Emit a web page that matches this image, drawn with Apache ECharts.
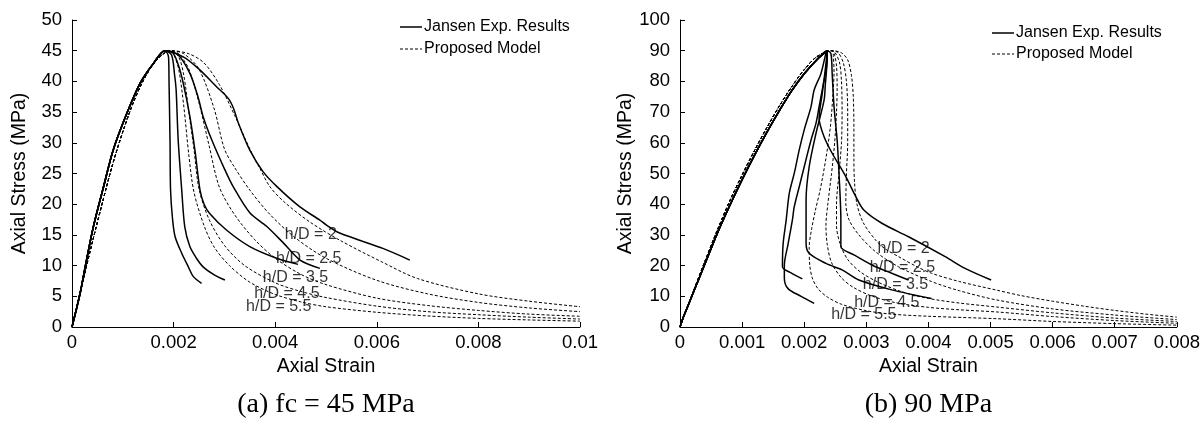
<!DOCTYPE html>
<html><head><meta charset="utf-8">
<script src="https://cdn.jsdelivr.net/npm/echarts@6/dist/echarts.min.js"></script>
<style>html,body{margin:0;padding:0;background:#fff}#c{width:1203px;height:427px}</style>
</head><body><div id="c"></div>
<script>
// ---------- tick / label text ----------
const hdLabels = ['h/D = 2', 'h/D = 2.5', 'h/D = 3.5', 'h/D = 4.5', 'h/D = 5.5'];
const captionA = '(a) fc = 45 MPa';
const captionB = '(b) 90 MPa';
const legendNames = ['Jansen Exp. Results', 'Proposed Model'];

// ---------- (a) fc = 45 MPa : [strain, stress] ----------
const a_expAsc = [[0,0],[0.00016,5.5],[0.00026,9.8],[0.00042,16.3],[0.00062,22.8],[0.00081,28.8],[0.00108,34.8],[0.00134,39.7],[0.0016,42.9],[0.00183,45]];
const a_exp2   = [[0.00219,44.0],[0.0025,42],[0.00285,39.1],[0.00308,37.2],[0.00318,35.6],[0.00328,33.1],[0.0035,28.8],[0.00376,25.3],[0.00403,22.9],[0.00448,19.6],[0.00488,17.4],[0.00501,16.6],[0.00527,15.3],[0.00612,12.8],[0.00665,10.9]];
const a_exp25  = [[0.00209,44.3],[0.00232,41.3],[0.00248,37.5],[0.00258,34.3],[0.00275,30.5],[0.00301,25.6],[0.00317,22.9],[0.0035,18.6],[0.00383,16.4],[0.00416,13.7],[0.00449,10.9],[0.00488,9.55]];
const a_exp35  = [[0.00199,44.6],[0.0021,42.5],[0.00219,39.7],[0.00232,34.3],[0.00242,28.8],[0.00252,22.3],[0.0026,20],[0.00271,18.5],[0.00304,15.8],[0.0035,13.1],[0.00403,11.2],[0.00445,10.2]];
const a_exp45  = [[0.00196,44.3],[0.00202,41],[0.00205,38.6],[0.00209,30.5],[0.00216,22.3],[0.00222,16.3],[0.00232,13.1],[0.00245,11.2],[0.00258,9.8],[0.0028,8.5],[0.00301,7.65]];
const a_exp55  = [[0.0019,44],[0.00191,40],[0.00193,30],[0.00194,22.3],[0.00198,17.5],[0.00203,14.7],[0.00216,12.0],[0.00229,9.8],[0.00239,8.2],[0.00255,7.1]];

const a_modAsc = [[0,0],[0.0002,7],[0.0004,13.8],[0.0006,20.3],[0.0008,26.5],[0.001,31.8],[0.0012,36.4],[0.0014,40.1],[0.0016,42.8],[0.0018,44.5],[0.00195,45]];
const a_mod2   = [[0.0023,44.5],[0.0026,43],[0.0029,39.5],[0.0032,34.5],[0.0035,29],[0.0037,25.8],[0.0039,22.8],[0.0042,20.2],[0.0047,17],[0.0053,14],[0.0061,10.6],[0.0068,7.9],[0.008,5.4],[0.009,4.2],[0.01,3.3]];
const a_mod25  = [[0.0022,44.5],[0.0025,42],[0.0028,35.5],[0.003,29],[0.0032,26],[0.0035,22.3],[0.0039,18.3],[0.0044,14.5],[0.005,11.2],[0.006,7.6],[0.007,5.4],[0.008,4],[0.009,3.1],[0.01,2.5]];
const a_mod35  = [[0.0021,44.5],[0.0023,42],[0.0025,36.5],[0.0027,29.5],[0.0029,22.8],[0.0032,18.3],[0.0036,14.2],[0.004,11.2],[0.0045,8.6],[0.005,6.9],[0.006,4.7],[0.007,3.5],[0.008,2.7],[0.009,2.1],[0.01,1.75]];
const a_mod45  = [[0.0021,44],[0.0022,41],[0.0023,35],[0.0024,29],[0.0025,22.5],[0.0027,17.5],[0.003,13.3],[0.0034,10],[0.004,7.2],[0.0045,5.8],[0.005,4.8],[0.006,3.4],[0.007,2.5],[0.008,2],[0.009,1.6],[0.01,1.3]];
const a_mod55  = [[0.002,44.5],[0.0021,42],[0.0022,36],[0.0023,28],[0.0024,22],[0.0026,16.5],[0.0028,13],[0.0031,10],[0.0035,7.3],[0.004,5.3],[0.0045,4.1],[0.005,3.3],[0.006,2.4],[0.007,1.8],[0.008,1.4],[0.009,1.15],[0.01,0.95]];
const a_labelPos = [[0.0047,15.1],[0.00466,11.1],[0.0044,8.0],[0.00423,5.5],[0.00407,3.3]];

// ---------- (b) 90 MPa : [strain, stress] ----------
const b_expAsc = [[0,0],[0.00005,3],[0.0001,5.5],[0.0002,10.5],[0.0004,20.5],[0.0006,30.5],[0.0008,39.5],[0.001,48],[0.0012,56],[0.0014,63.5],[0.0016,70.5],[0.0018,77],[0.002,82.5],[0.0022,87],[0.00237,90]];
const b_exp2   = [[0.00234,84],[0.00229,76],[0.00224,68],[0.00232,62],[0.00245,56.6],[0.00267,49],[0.00283,42.5],[0.00296,38.1],[0.00325,33.8],[0.00368,29.4],[0.00427,22.9],[0.00459,19.1],[0.00501,15.3]];
const b_exp25  = [[0.00243,89],[0.00245,82.6],[0.00248,71.8],[0.00253,60.9],[0.00256,50.1],[0.00259,34.9],[0.00259,26.2],[0.0028,23.5],[0.00309,20.2],[0.00341,17.5],[0.00368,15.3]];
const b_exp35  = [[0.00236,84],[0.00234,79],[0.00232,73.9],[0.00219,63.1],[0.00208,52.2],[0.00203,41.4],[0.00203,27.3],[0.00208,24],[0.00235,20.7],[0.00261,18.6],[0.00288,15.3],[0.00341,12.1],[0.00405,9.3]];
const b_exp45  = [[0.00235,89.2],[0.00227,82.6],[0.00216,77.2],[0.00211,71.8],[0.002,64.2],[0.00192,57.7],[0.00184,50.1],[0.00176,43.6],[0.00171,34.9],[0.00166,27],[0.00165,19.6],[0.0018,17.5],[0.00197,15.7]];
const b_exp55  = [[0.00237,87],[0.00229,77.2],[0.00224,71.8],[0.00219,66.4],[0.00211,60.9],[0.002,52.2],[0.00192,45.7],[0.00184,39.2],[0.00181,34.9],[0.00174,27],[0.00168,20],[0.00168,16],[0.00174,12.5],[0.00195,10],[0.00216,7.7]];

const b_modAsc = [[0,0],[0.0002,10.8],[0.0004,21.3],[0.0006,31.5],[0.0008,41],[0.001,49.5],[0.0012,57.5],[0.0014,65],[0.0016,72],[0.0018,78.3],[0.002,83.8],[0.0022,88],[0.00245,90]];
const b_mod2   = [[0.0026,89.3],[0.0027,87],[0.00276,82],[0.00279,75],[0.0028,65],[0.0028,55],[0.00281,47],[0.00285,40],[0.00295,34],[0.00315,28.3],[0.0033,25.5],[0.00352,22.9],[0.0038,19.8],[0.00405,17.5],[0.0045,14.8],[0.0051,12],[0.0055,10.2],[0.006,8.4],[0.0065,6.8],[0.007,5.4],[0.0075,4.2],[0.008,3.2]];
const b_mod25  = [[0.00255,89.3],[0.00263,86],[0.00268,80],[0.0027,70],[0.0027,60],[0.00268,50],[0.00267,40.3],[0.00272,35],[0.00288,30],[0.00315,24.5],[0.00352,19.6],[0.00405,14.8],[0.0045,11.8],[0.0051,8.8],[0.006,5.9],[0.007,3.9],[0.008,2.4]];
const b_mod35  = [[0.0025,89.3],[0.00257,86],[0.0026,80],[0.00261,70],[0.0026,60],[0.00256,50],[0.00252,40],[0.00252,33],[0.00258,27],[0.0027,22],[0.0029,18],[0.0032,14.5],[0.0036,11.3],[0.004,9.3],[0.0045,7.8],[0.0051,6.5],[0.006,4.6],[0.007,2.9],[0.008,1.8]];
const b_mod45  = [[0.00249,88.5],[0.00252,85],[0.00253,78],[0.00252,70],[0.00249,60],[0.00244,50],[0.00238,40],[0.00235,33],[0.00237,27],[0.00244,21],[0.0026,16],[0.0028,12.8],[0.0031,10],[0.0035,7.8],[0.004,6.4],[0.0045,5.6],[0.0051,4.9],[0.006,3.4],[0.007,2.1],[0.008,1.2]];
const b_mod55  = [[0.00247,88],[0.00248,83],[0.00246,75],[0.00242,65],[0.00235,55],[0.00226,45],[0.00218,38],[0.00212,32],[0.00208,26],[0.00209,20],[0.00213,16],[0.00222,12.5],[0.00237,9.8],[0.0026,7.4],[0.003,5.3],[0.0034,4.2],[0.004,3.5],[0.0051,2.7],[0.006,1.8],[0.007,1.1],[0.008,0.6]];
const b_labelPos = [[0.0036,25.4],[0.00358,19.5],[0.00347,13.7],[0.00333,8.1],[0.00296,3.9]];

// ---------- build ----------
const SANS = 'Liberation Sans, Arial, sans-serif';
const SERIF = 'Liberation Serif, Times New Roman, serif';
const SOLID = {stroke: '#000', lineWidth: 1.5};
const DASH = {stroke: '#000', lineWidth: 1, lineDash: [3, 2]};

function lineSeries(name, data, idx, dashed) {
  return {
    type: 'line', name: name, data: data, xAxisIndex: idx, yAxisIndex: idx,
    showSymbol: false, symbol: 'none', smooth: 0.3, silent: true, color: '#000',
    lineStyle: dashed ? {color: '#000', width: 1, type: [3, 2]} : {color: '#000', width: 1.5},
    z: dashed ? 2 : 3
  };
}
function labelSeries(pos, idx) {
  return {
    type: 'scatter', xAxisIndex: idx, yAxisIndex: idx, symbolSize: 0, silent: true,
    data: pos.map((p, i) => ({value: p, name: hdLabels[i]})),
    label: {show: true, position: 'inside', formatter: '{b}', color: '#000', fontFamily: SANS, fontSize: 16},
    z: 5
  };
}
function xAx(idx, max, interval) {
  return {
    type: 'value', gridIndex: idx, min: 0, max: max, interval: interval,
    name: 'Axial Strain', nameLocation: 'middle', nameGap: 26,
    nameTextStyle: {fontFamily: SANS, fontSize: 19.5, color: '#000'},
    axisLine: {show: true, lineStyle: {color: '#000', width: 1}},
    axisTick: {show: true, inside: true, length: 5, lineStyle: {color: '#000'}},
    axisLabel: {fontFamily: SANS, fontSize: 18.5, color: '#000', margin: 6},
    splitLine: {show: false}
  };
}
function yAx(idx, max, interval) {
  return {
    type: 'value', gridIndex: idx, min: 0, max: max, interval: interval,
    name: 'Axial Stress (MPa)', nameLocation: 'middle', nameGap: 42, nameRotate: 90,
    nameTextStyle: {fontFamily: SANS, fontSize: 19.5, color: '#000'},
    axisLine: {show: true, lineStyle: {color: '#000', width: 1}},
    axisTick: {show: true, inside: true, length: 5, lineStyle: {color: '#000'}},
    axisLabel: {fontFamily: SANS, fontSize: 18.5, color: '#000', margin: 10},
    splitLine: {show: false}
  };
}

const series = [];
const aExp = [a_exp2, a_exp25, a_exp35, a_exp45, a_exp55];
const aMod = [a_mod2, a_mod25, a_mod35, a_mod45, a_mod55];
const bExp = [b_exp2, b_exp25, b_exp35, b_exp45, b_exp55];
const bMod = [b_mod2, b_mod25, b_mod35, b_mod45, b_mod55];
aExp.forEach(d => series.push(lineSeries(legendNames[0], a_expAsc.concat(d), 0, false)));
aMod.forEach(d => series.push(lineSeries(legendNames[1], a_modAsc.concat(d), 0, true)));
bExp.forEach(d => series.push(lineSeries(legendNames[0], b_expAsc.concat(d), 1, false)));
bMod.forEach(d => series.push(lineSeries(legendNames[1], b_modAsc.concat(d), 1, true)));
series.push(labelSeries(a_labelPos, 0));
series.push(labelSeries(b_labelPos, 1));

function legendGraphic(x, y1, y2) {
  return [
    {type: 'line', shape: {x1: x, y1: y1, x2: x + 22, y2: y1}, style: SOLID, silent: true},
    {type: 'text', x: x + 24, y: y1, style: {text: legendNames[0], font: '16px ' + SANS, fill: '#000', verticalAlign: 'middle'}, silent: true},
    {type: 'line', shape: {x1: x, y1: y2, x2: x + 22, y2: y2}, style: DASH, silent: true},
    {type: 'text', x: x + 24, y: y2, style: {text: legendNames[1], font: '16px ' + SANS, fill: '#000', verticalAlign: 'middle'}, silent: true}
  ];
}

const chart = echarts.init(document.getElementById('c'), null, {renderer: 'canvas'});
chart.setOption({
  animation: false,
  backgroundColor: '#fff',
  grid: [
    {left: 72, top: 20, width: 508, height: 307},
    {left: 680, top: 20, width: 500, height: 307}
  ],
  xAxis: [xAx(0, 0.01, 0.002), xAx(1, 0.008, 0.001)],
  yAxis: [yAx(0, 50, 5), yAx(1, 100, 10)],
  series: series
});
const ca = chart.convertToPixel({xAxisIndex: 0}, 0.005);
const cb = chart.convertToPixel({xAxisIndex: 1}, 0.004);
chart.setOption({
  graphic: [
    {type: 'text', x: ca, y: 405, style: {text: captionA, font: '28px ' + SERIF, fill: '#000', align: 'center', verticalAlign: 'middle'}},
    {type: 'text', x: cb, y: 405, style: {text: captionB, font: '28px ' + SERIF, fill: '#000', align: 'center', verticalAlign: 'middle'}}
  ].concat(legendGraphic(400, 27, 49), legendGraphic(992, 33, 54))
});
</script></body></html>
